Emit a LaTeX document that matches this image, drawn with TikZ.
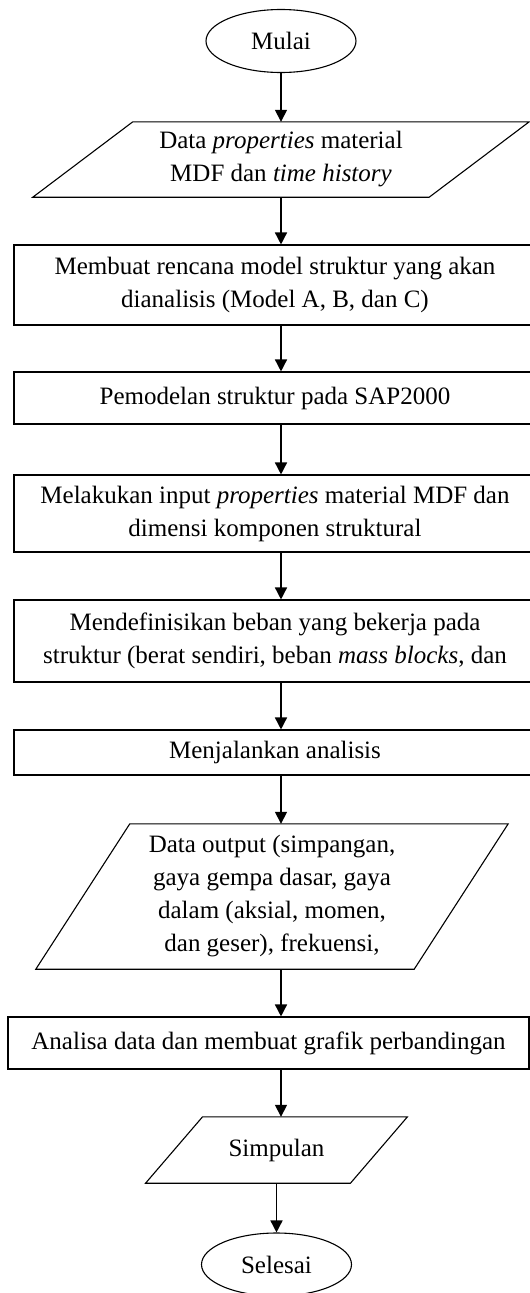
\documentclass[tikz,border=0pt]{standalone}
\usepackage{fontspec}
\setmainfont{Liberation Serif}
\usetikzlibrary{shapes.geometric,arrows.meta,calc}
\begin{document}
\begin{tikzpicture}[x=1pt,y=-1pt,
  every node/.style={font=\fontsize{25}{33}\selectfont, align=center, inner sep=0pt},
  term/.style={ellipse, draw, line width=1.1pt, minimum width=150pt, minimum height=63pt},
  procbox/.style={rectangle, draw, line width=1.1pt, minimum width=522pt},
  paratext/.style={rectangle},
  paraline/.style={line width=1.1pt, line join=miter},
  arr/.style={line width=1.5pt, -{Triangle[length=12pt,width=12pt]}}]
\useasboundingbox (0,0) rectangle (530,1293);
\coordinate (ax) at (281,0);

\node[term] (mulai) at (281,41) {Mulai};

\node[paratext, minimum width=396pt, minimum height=75pt] (p1) at (281,159.5)
  {Data \textit{properties} material\\MDF dan \textit{time history}};
\draw[paraline] ([xshift=50pt]p1.north west) -- ([xshift=50pt]p1.north east)
  -- ([xshift=-50pt]p1.south east) -- ([xshift=-50pt]p1.south west) -- cycle;

\node[procbox, minimum height=80pt] (b1) at (275,285)
  {Membuat rencana model struktur yang akan\\dianalisis (Model A, B, dan C)};

\node[procbox, minimum height=52pt] (b2) at (275,398)
  {Pemodelan struktur pada SAP2000};

\node[procbox, minimum height=77pt] (b3) at (275,513.5)
  {Melakukan input \textit{properties} material MDF dan\\dimensi komponen struktural};

\node[procbox, minimum height=82pt] (b4) at (275,641)
  {Mendefinisikan beban yang bekerja pada\\struktur (berat sendiri, beban \textit{mass blocks}, dan};

\node[procbox, minimum height=45pt] (b5) at (275,752.5)
  {Menjalankan analisis};

\node[paratext, minimum width=378pt, minimum height=145pt] (p2) at (272,896.5)
  {Data output (simpangan,\\gaya gempa dasar, gaya\\dalam (aksial, momen,\\dan geser), frekuensi,};
\draw[paraline] ([xshift=47pt]p2.north west) -- ([xshift=47pt]p2.north east)
  -- ([xshift=-47pt]p2.south east) -- ([xshift=-47pt]p2.south west) -- cycle;

\node[procbox, minimum width=521pt, minimum height=52pt] (b6) at (268.5,1043)
  {Analisa data dan membuat grafik perbandingan};

\node[paratext, minimum width=204.5pt, minimum height=66pt] (p3) at (276.5,1150)
  {Simpulan};
\draw[paraline] ([xshift=28.5pt]p3.north west) -- ([xshift=28.5pt]p3.north east)
  -- ([xshift=-28.5pt]p3.south east) -- ([xshift=-28.5pt]p3.south west) -- cycle;

\node[term] (selesai) at (276.5,1264.5) {Selesai};

\draw[arr] (mulai.south) -- (mulai.south |- p1.north);
\draw[arr] (p1.south -| ax) -- (b1.north -| ax);
\draw[arr] (b1.south -| ax) -- (b2.north -| ax);
\draw[arr] (b2.south -| ax) -- (b3.north -| ax);
\draw[arr] (b3.south -| ax) -- (b4.north -| ax);
\draw[arr] (b4.south -| ax) -- (b5.north -| ax);
\draw[arr] (b5.south -| ax) -- (p2.north -| ax);
\draw[arr] (p2.south -| ax) -- (b6.north -| ax);
\draw[arr] (b6.south -| ax) -- (p3.north -| ax);
\draw[arr] (selesai.north |- p3.south) -- (selesai.north);
\end{tikzpicture}
\end{document}
